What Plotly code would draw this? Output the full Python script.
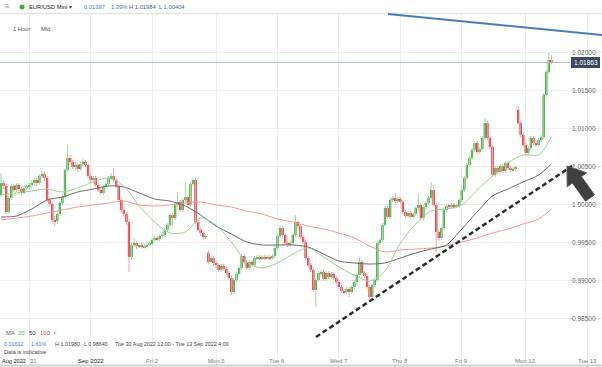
import pandas as pd
import plotly.graph_objects as go

# ---------------- data (EUR/USD Mini, 1 hour) ----------------
sessions = [("2022-08-30 13:00", "2022-09-02 21:00"),
            ("2022-09-04 21:00", "2022-09-09 21:00"),
            ("2022-09-11 21:00", "2022-09-12 10:00")]
times = pd.DatetimeIndex(pd.concat([pd.Series(pd.date_range(a, b, freq="h")) for a, b in sessions]))

opens = [1.00118, 1.00276, 1.00237, 0.99895, 1.00079, 1.00237, 1.00184, 1.00250, 1.00197, 1.00145, 1.00211, 1.00224,
         1.00250, 1.00276, 1.00316, 1.00276, 1.00368, 1.00395, 1.00342, 1.00053, 1.00000, 0.99789, 0.99776, 0.99868,
         1.00013, 1.00092, 1.00447, 1.00605, 1.00553, 1.00487, 1.00513, 1.00461, 1.00526, 1.00553, 1.00513, 1.00368,
         1.00316, 1.00342, 1.00250, 1.00184, 1.00145, 1.00224, 1.00263, 1.00342, 1.00368, 1.00316, 1.00237, 1.00053,
         0.99921, 0.99868, 0.99763, 0.99303, 0.99461, 0.99487, 0.99447, 0.99461, 0.99434, 0.99447, 0.99461, 0.99474,
         0.99526, 0.99553, 0.99539, 0.99579, 0.99592, 0.99658, 0.99724, 0.99855, 0.99816, 0.99987, 1.00026, 0.99921,
         1.00053, 1.00092, 0.99987, 1.00263, 1.00316, 0.99763, 0.99658, 0.99618, 0.99566, 0.99355, 0.99237, 0.99289,
         0.99224, 0.99197, 0.99132, 0.99184, 0.99145, 0.99092, 0.99026, 0.98842, 0.99000, 0.99079, 0.99158, 0.99316,
         0.99237, 0.99158, 0.99237, 0.99197, 0.99289, 0.99303, 0.99289, 0.99303, 0.99289, 0.99303, 0.99289, 0.99316,
         0.99421, 0.99579, 0.99684, 0.99592, 0.99487, 0.99461, 0.99487, 0.99592, 0.99763, 0.99710, 0.99566, 0.99500,
         0.99289, 0.99197, 0.99132, 0.98868, 0.99000, 0.99092, 0.99105, 0.99013, 0.99092, 0.99039, 0.99079, 0.99026,
         0.98974, 0.98908, 0.98855, 0.98842, 0.98882, 0.98842, 0.98908, 0.98974, 0.99066, 0.99237, 0.99092, 0.99053,
         0.98908, 0.98776, 0.98934, 0.99000, 0.99487, 0.99526, 0.99724, 0.99947, 0.99829, 1.00053, 1.00079, 1.00039,
         1.00066, 1.00026, 0.99895, 0.99842, 0.99882, 0.99829, 0.99868, 0.99947, 0.99987, 0.99816, 0.99961, 1.00013,
         1.00079, 1.00184, 0.99987, 0.99632, 0.99553, 0.99684, 0.99921, 0.99974, 0.99961, 0.99987, 0.99961, 0.99974,
         1.00053, 1.00184, 1.00342, 1.00513, 1.00605, 1.00711, 1.00803, 1.00684, 1.00724, 1.00869, 1.01066, 1.00869,
         1.00750, 1.00382, 1.00474, 1.00421, 1.00500, 1.00434, 1.00540, 1.00474, 1.00447, 1.00461, 1.01237, 1.01066,
         1.00908, 1.00776, 1.00671, 1.00737, 1.00869, 1.00803, 1.00776, 1.00842, 1.00882, 1.01434, 1.01737, 1.01895]

highs = [1.00408, 1.00303, 1.00263, 1.00105, 1.00263, 1.00263, 1.00276, 1.00276, 1.00224, 1.00237, 1.00250, 1.00290,
         1.00316, 1.00342, 1.00342, 1.00395, 1.00434, 1.00421, 1.00368, 1.00079, 1.00026, 0.99842, 0.99895, 1.00039,
         1.00132, 1.00474, 1.00776, 1.00645, 1.00579, 1.00553, 1.00540, 1.00553, 1.00592, 1.00579, 1.00540, 1.00395,
         1.00368, 1.00368, 1.00276, 1.00211, 1.00250, 1.00290, 1.00368, 1.00408, 1.00474, 1.00342, 1.00263, 1.00079,
         0.99961, 0.99895, 0.99789, 0.99487, 0.99553, 0.99513, 0.99487, 0.99487, 0.99474, 0.99487, 0.99500, 0.99553,
         0.99579, 0.99579, 0.99605, 0.99632, 0.99684, 0.99750, 0.99882, 0.99882, 1.00013, 1.00158, 1.00053, 1.00079,
         1.00290, 1.00118, 1.00290, 1.00342, 1.00342, 0.99789, 0.99684, 0.99645, 0.99605, 0.99382, 0.99316, 0.99316,
         0.99250, 0.99224, 0.99210, 0.99210, 0.99171, 0.99118, 0.99053, 0.99026, 0.99105, 0.99184, 0.99342, 0.99342,
         0.99263, 0.99263, 0.99263, 0.99316, 0.99329, 0.99329, 0.99329, 0.99329, 0.99329, 0.99329, 0.99342, 0.99447,
         0.99605, 0.99724, 0.99710, 0.99618, 0.99513, 0.99513, 0.99618, 0.99855, 0.99789, 0.99737, 0.99592, 0.99526,
         0.99316, 0.99224, 0.99158, 0.99026, 0.99118, 0.99132, 0.99132, 0.99118, 0.99118, 0.99105, 0.99105, 0.99053,
         0.99000, 0.98934, 0.98882, 0.98908, 0.98908, 0.98934, 0.99000, 0.99092, 0.99303, 0.99263, 0.99118, 0.99079,
         0.98934, 0.98961, 0.99026, 0.99513, 0.99553, 0.99750, 0.99974, 0.99974, 1.00079, 1.00105, 1.00145, 1.00092,
         1.00092, 1.00053, 0.99921, 0.99908, 0.99908, 0.99895, 0.99974, 1.00145, 1.00013, 0.99987, 1.00039, 1.00105,
         1.00290, 1.00211, 1.00013, 0.99658, 0.99710, 0.99947, 1.00000, 1.00000, 1.00013, 1.00013, 1.00000, 1.00079,
         1.00211, 1.00368, 1.00540, 1.00632, 1.00737, 1.00829, 1.00829, 1.00750, 1.00895, 1.01132, 1.01092, 1.00895,
         1.00776, 1.00500, 1.00500, 1.00526, 1.00526, 1.00566, 1.00566, 1.00500, 1.00487, 1.00500, 1.01290, 1.01092,
         1.00934, 1.00803, 1.00763, 1.00895, 1.00895, 1.00829, 1.00869, 1.00908, 1.01461, 1.01763, 1.01987, 1.01961]

lows = [1.00092, 1.00197, 0.99868, 0.99868, 1.00053, 1.00158, 1.00158, 1.00171, 1.00118, 1.00118, 1.00184, 1.00197,
        1.00224, 1.00250, 1.00237, 1.00250, 1.00342, 1.00303, 1.00026, 0.99961, 0.99763, 0.99710, 0.99737, 0.99842,
        0.99987, 1.00066, 1.00421, 1.00513, 1.00461, 1.00447, 1.00421, 1.00434, 1.00500, 1.00487, 1.00342, 1.00276,
        1.00290, 1.00224, 1.00158, 1.00118, 1.00118, 1.00197, 1.00237, 1.00316, 1.00290, 1.00211, 1.00026, 0.99882,
        0.99842, 0.99724, 0.99105, 0.99263, 0.99434, 0.99408, 0.99421, 0.99408, 0.99421, 0.99434, 0.99447, 0.99447,
        0.99500, 0.99513, 0.99513, 0.99553, 0.99566, 0.99632, 0.99697, 0.99724, 0.99789, 0.99961, 0.99895, 0.99895,
        1.00026, 0.99961, 0.99961, 1.00237, 0.99737, 0.99632, 0.99579, 0.99526, 0.99539, 0.99210, 0.99210, 0.99184,
        0.99158, 0.99105, 0.99105, 0.99118, 0.99066, 0.99000, 0.98803, 0.98816, 0.98974, 0.99053, 0.99132, 0.99210,
        0.99132, 0.99132, 0.99171, 0.99171, 0.99263, 0.99263, 0.99263, 0.99263, 0.99276, 0.99263, 0.99263, 0.99289,
        0.99395, 0.99553, 0.99566, 0.99461, 0.99434, 0.99434, 0.99461, 0.99566, 0.99684, 0.99539, 0.99474, 0.99263,
        0.99171, 0.99105, 0.98842, 0.98645, 0.98974, 0.99066, 0.98987, 0.98987, 0.99013, 0.99013, 0.99000, 0.98947,
        0.98882, 0.98829, 0.98816, 0.98816, 0.98776, 0.98816, 0.98882, 0.98947, 0.99039, 0.99066, 0.99026, 0.98882,
        0.98750, 0.98750, 0.98908, 0.98974, 0.99461, 0.99500, 0.99697, 0.99803, 0.99803, 1.00026, 1.00013, 1.00013,
        1.00000, 0.99868, 0.99816, 0.99816, 0.99803, 0.99803, 0.99842, 0.99921, 0.99789, 0.99789, 0.99934, 0.99987,
        1.00053, 0.99961, 0.99368, 0.99513, 0.99526, 0.99658, 0.99895, 0.99934, 0.99934, 0.99934, 0.99947, 0.99947,
        1.00026, 1.00158, 1.00316, 1.00487, 1.00579, 1.00684, 1.00658, 1.00658, 1.00697, 1.00842, 1.00842, 1.00724,
        1.00355, 1.00355, 1.00395, 1.00395, 1.00408, 1.00408, 1.00447, 1.00421, 1.00421, 1.00434, 1.01040, 1.00882,
        1.00750, 1.00632, 1.00645, 1.00711, 1.00776, 1.00750, 1.00750, 1.00816, 1.00855, 1.01408, 1.01711, 1.01842]

closes = [1.00276, 1.00237, 0.99895, 1.00079, 1.00237, 1.00184, 1.00250, 1.00197, 1.00145, 1.00211, 1.00224, 1.00250,
          1.00276, 1.00316, 1.00276, 1.00368, 1.00395, 1.00342, 1.00053, 1.00000, 0.99789, 0.99776, 0.99868, 1.00013,
          1.00092, 1.00447, 1.00605, 1.00553, 1.00487, 1.00513, 1.00461, 1.00526, 1.00553, 1.00513, 1.00368, 1.00316,
          1.00342, 1.00250, 1.00184, 1.00145, 1.00224, 1.00263, 1.00342, 1.00368, 1.00316, 1.00237, 1.00053, 0.99921,
          0.99868, 0.99763, 0.99303, 0.99461, 0.99487, 0.99447, 0.99461, 0.99434, 0.99447, 0.99461, 0.99474, 0.99526,
          0.99553, 0.99539, 0.99579, 0.99592, 0.99658, 0.99724, 0.99855, 0.99816, 0.99987, 1.00026, 0.99921, 1.00053,
          1.00092, 0.99987, 1.00263, 1.00316, 0.99763, 0.99658, 0.99618, 0.99566, 0.99579, 0.99237, 0.99289, 0.99224,
          0.99197, 0.99132, 0.99184, 0.99145, 0.99092, 0.99026, 0.98842, 0.99000, 0.99079, 0.99158, 0.99316, 0.99237,
          0.99158, 0.99237, 0.99197, 0.99289, 0.99303, 0.99289, 0.99303, 0.99289, 0.99303, 0.99289, 0.99316, 0.99421,
          0.99579, 0.99684, 0.99592, 0.99487, 0.99461, 0.99487, 0.99592, 0.99763, 0.99710, 0.99566, 0.99500, 0.99289,
          0.99197, 0.99132, 0.98868, 0.99000, 0.99092, 0.99105, 0.99013, 0.99092, 0.99039, 0.99079, 0.99026, 0.98974,
          0.98908, 0.98855, 0.98842, 0.98882, 0.98842, 0.98908, 0.98974, 0.99066, 0.99237, 0.99092, 0.99053, 0.98908,
          0.98776, 0.98934, 0.99000, 0.99487, 0.99526, 0.99724, 0.99947, 0.99829, 1.00053, 1.00079, 1.00039, 1.00066,
          1.00026, 0.99895, 0.99842, 0.99882, 0.99829, 0.99868, 0.99947, 0.99987, 0.99816, 0.99961, 1.00013, 1.00079,
          1.00184, 0.99987, 0.99632, 0.99553, 0.99684, 0.99921, 0.99974, 0.99961, 0.99987, 0.99961, 0.99974, 1.00053,
          1.00184, 1.00342, 1.00513, 1.00605, 1.00711, 1.00803, 1.00684, 1.00724, 1.00869, 1.01066, 1.00869, 1.00750,
          1.00382, 1.00474, 1.00421, 1.00500, 1.00434, 1.00540, 1.00474, 1.00447, 1.00461, 1.00474, 1.01066, 1.00908,
          1.00776, 1.00671, 1.00737, 1.00869, 1.00803, 1.00776, 1.00842, 1.00882, 1.01434, 1.01737, 1.01895, 1.01863]

# moving averages read every 6 hours (candle index) + last candle
ma_index = list(range(0, 211, 6)) + [215]
ma20 = [1.00118, 1.00145, 1.00171, 1.00197, 1.00158, 1.00211, 1.00290, 1.00342, 1.00237, 0.99974,
        0.99763, 0.99618, 0.99632, 0.99816, 0.99724, 0.99500, 0.99237, 0.99158, 0.99224, 0.99342,
        0.99421, 0.99303, 0.99171, 0.99066, 0.98987, 0.99118, 0.99487, 0.99737, 0.99908, 0.99934,
        0.99987, 1.00184, 1.00368, 1.00540, 1.00645, 1.00645, 1.00882]
ma50 = [0.99829, 0.99842, 0.99934, 1.00053, 1.00092, 1.00158, 1.00197, 1.00237, 1.00224, 1.00145,
        1.00066, 1.00039, 0.99974, 0.99855, 0.99710, 0.99605, 0.99500, 0.99461, 0.99461, 0.99461,
        0.99434, 0.99342, 0.99250, 0.99224, 0.99210, 0.99224, 0.99289, 0.99355, 0.99408, 0.99461,
        0.99671, 0.99895, 1.00105, 1.00197, 1.00290, 1.00382, 1.00526]
ma100 = [0.99789, 0.99816, 0.99842, 0.99882, 0.99921, 0.99961, 0.99987, 1.00013, 1.00039, 0.99987,
         0.99974, 0.99987, 1.00013, 1.00026, 0.99987, 0.99961, 0.99908, 0.99868, 0.99803, 0.99763,
         0.99710, 0.99671, 0.99618, 0.99553, 0.99447, 0.99368, 0.99395, 0.99408, 0.99421, 0.99447,
         0.99500, 0.99553, 0.99618, 0.99671, 0.99737, 0.99803, 0.99934]

last_price = 1.01863
price_ticks = [0.985, 0.990, 0.995, 1.000, 1.005, 1.010, 1.015, 1.020]
day_starts = ["2022-08-31", "2022-09-01", "2022-09-02", "2022-09-05", "2022-09-06", "2022-09-07",
              "2022-09-08", "2022-09-09", "2022-09-12", "2022-09-13"]
day_labels = ["31", "Sep 2022", "Fri 2", "Mon 5", "Tue 6", "Wed 7", "Thu 8", "Fri 9", "Mon 12", "Tue 13"]
weekend_breaks = ["2022-09-02 22:00:00", "2022-09-09 22:00:00"]

# ---------------- styling helpers ----------------
W, H = 602, 367
FONT = "Liberation Sans, Arial, sans-serif"
UP, DOWN = "#23a023", "#e8161d"
UP_W, DOWN_W = "#9fd89c", "#f3a0a2"


def px(x):
    return x / W


def py(y):
    return 1 - y / H


fig = go.Figure()

up = [i for i in range(len(closes)) if closes[i] >= opens[i]]
dn = [i for i in range(len(closes)) if closes[i] < opens[i]]

for idx, col in ((up, UP_W), (dn, DOWN_W)):
    xs, ys = [], []
    for i in idx:
        xs += [times[i], times[i], None]
        ys += [lows[i], highs[i], None]
    fig.add_trace(go.Scatter(x=xs, y=ys, mode="lines", line=dict(color=col, width=1),
                             hoverinfo="skip"))

for idx, col in ((up, UP), (dn, DOWN)):
    fig.add_trace(go.Bar(x=[times[i] for i in idx],
                         y=[abs(closes[i] - opens[i]) for i in idx],
                         base=[min(opens[i], closes[i]) for i in idx],
                         width=0.9 * 3600 * 1000, marker=dict(color=col, line=dict(width=0))))

ma_x = [times[i] for i in ma_index]
for vals, col in ((ma100, "#f29a98"), (ma50, "#6b6b6b"), (ma20, "#97d394")):
    fig.add_trace(go.Scatter(x=ma_x, y=vals, mode="lines", line=dict(color=col, width=1, shape="spline", smoothing=0.8),
                             hoverinfo="skip"))

shapes = []
# current price line
shapes.append(dict(type="line", xref="paper", yref="y", x0=0, x1=px(570), y0=last_price, y1=last_price,
                   line=dict(color="#aebad3", width=1)))
# header band
shapes.append(dict(type="rect", xref="paper", yref="paper", x0=0, x1=1, y0=py(13), y1=1,
                   fillcolor="white", line=dict(width=0), layer="above"))
shapes.append(dict(type="line", xref="paper", yref="paper", x0=0, x1=1, y0=py(13.5), y1=py(13.5),
                   line=dict(color="#e4e4e4", width=1.5), layer="above"))
# bottom axis line
shapes.append(dict(type="line", xref="paper", yref="paper", x0=0, x1=1, y0=py(365.5), y1=py(365.5),
                   line=dict(color="#cfcfcf", width=2), layer="above"))
# green dot in header
shapes.append(dict(type="circle", xref="paper", yref="paper", x0=px(19.5), x1=px(24.5), y0=py(9.5), y1=py(4.5),
                   fillcolor="#2db52d", line=dict(width=0), layer="above"))
# resistance line (blue)
shapes.append(dict(type="line", xref="paper", yref="paper", x0=px(388), y0=py(14), x1=px(602), y1=py(35),
                   line=dict(color="#4a7db8", width=2), layer="above"))
# support line (dashed)
shapes.append(dict(type="line", xref="paper", yref="paper", x0=px(316), y0=py(337), x1=px(572), y1=py(166),
                   line=dict(color="#2e2e2e", width=2.5, dash="5px,3px"), layer="above"))
# price tag
shapes.append(dict(type="rect", xref="paper", yref="paper", x0=px(571), x1=px(600), y0=py(68), y1=py(57),
                   fillcolor="#3b4a60", line=dict(width=0), layer="above"))
# big arrow
arrow = [(567, 166), (586.6, 172.8), (581.4, 176.6), (594.5, 194.8), (585.5, 201.2), (572.4, 183.0), (567.2, 186.8)]
path = "M " + " L ".join(f"{px(a):.5f},{py(b):.5f}" for a, b in arrow) + " Z"
shapes.append(dict(type="path", xref="paper", yref="paper", path=path, fillcolor="#3f3f3f",
                   line=dict(color="#555555", width=1), layer="above"))

ann = []


def txt(x, y, s, color="#444", size=6.2, anchor="left", xref="paper", yref="paper"):
    ann.append(dict(x=x, y=y, xref=xref, yref=yref, text=s, showarrow=False, xanchor=anchor, yanchor="middle",
                    font=dict(family=FONT, size=size, color=color)))


# header
txt(px(3), py(7), "≡", "#9a9a9a", 8)
txt(px(27), py(7), "EUR/USD Mini", "#222", 5.8)
txt(px(67), py(7), "▾", "#444", 5.5)
txt(px(82), py(7), "0.01397", "#4a78c2", 5.8)
txt(px(109), py(7), "1.39%", "#4a78c2", 5.8)
txt(px(127), py(7), "H 1.01984", "#4a5f86", 5.8)
txt(px(157), py(7), "L 1.00404", "#4a5f86", 5.8)
txt(px(11), py(29), "1 Hour", "#555", 5.8)
txt(px(39), py(29), "Mid", "#555", 5.8)

# y-axis labels
for v in price_ticks:
    txt(px(598), v, f"{v:.5f}", "#666", 6.5, anchor="right", yref="y")
txt(px(585.5), py(62.5), f"{last_price:.5f}", "white", 6.5, anchor="center")

# bottom legend
txt(px(4), py(333), "MA", "#666", 6)
txt(px(16), py(333), "20", "#5cb85c", 6)
txt(px(27), py(333), "50", "#333", 6)
txt(px(38), py(333), "100", "#e35050", 6)
txt(px(51), py(333), "×", "#999", 6)
txt(px(2), py(344), "0.01612", "#4a78c2", 5.4)
txt(px(29), py(344), "1.61%", "#4a78c2", 5.4)
txt(px(53), py(344), "H 1.01980", "#444", 5.4)
txt(px(82), py(344), "L 0.98640", "#444", 5.4)
txt(px(113), py(344), "Tue 30 Aug 2022 13:00 - Tue 13 Sep 2022 4:00", "#444", 5.4)
txt(px(2), py(352), "Data is indicative", "#444", 5.6)

# x labels
txt(px(0), py(361), "Aug 2022", "#222", 5.6)
for d, lab in zip(day_starts, day_labels):
    bold = lab.endswith("2022")
    ann.append(dict(x=pd.Timestamp(d), y=py(361), xref="x", yref="paper", text=lab, showarrow=False,
                    xanchor="center", yanchor="middle", xshift=4 if lab == "31" else 0,
                    font=dict(family=FONT, size=6, color="#222" if bold else "#777")))

fig.update_layout(
    width=W, height=H, margin=dict(l=0, r=0, t=0, b=0),
    paper_bgcolor="white", plot_bgcolor="white", showlegend=False, barmode="overlay",
    shapes=shapes, annotations=ann,
    xaxis=dict(type="date", range=["2022-08-30 12:36:36", "2022-09-13 05:46:00"],
               rangebreaks=[dict(values=weekend_breaks, dvalue=47 * 3600 * 1000)],
               tickvals=[pd.Timestamp(d) for d in day_starts], showticklabels=False,
               showgrid=True, gridcolor="#eeeeee", gridwidth=1, zeroline=False, showline=False, ticks=""),
    yaxis=dict(range=[0.978553, 1.026842], tickvals=price_ticks, showticklabels=False,
               showgrid=True, gridcolor="#eeeeee", gridwidth=1, zeroline=False, showline=False, ticks=""),
)

fig.write_html("out.html", config={"displayModeBar": False},
               post_script="document.body.style.margin='0';document.body.style.overflow='hidden';")
